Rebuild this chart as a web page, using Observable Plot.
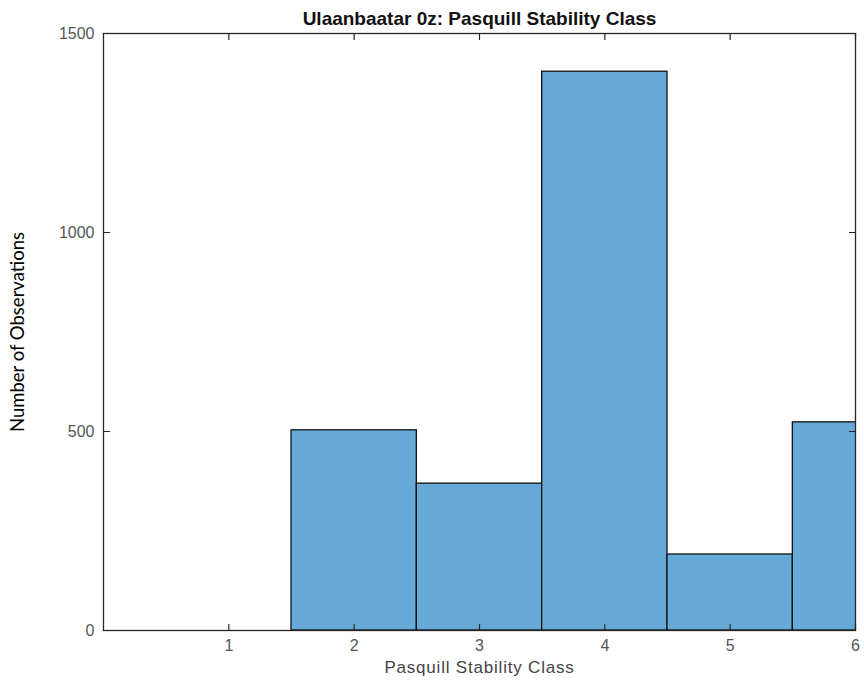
<!DOCTYPE html>
<html>
<head>
<meta charset="utf-8">
<script src="https://cdn.jsdelivr.net/npm/d3@7"></script>
<script src="https://cdn.jsdelivr.net/npm/@observablehq/plot@0.6"></script>
<style>
  html, body { margin: 0; padding: 0; background: #fff; }
</style>
</head>
<body>
<div id="chart"></div>
<script>
const classes = [1, 2, 3, 4, 5, 6];
const counts = [0, 503, 369, 1404, 191, 523];
const xTicks = [1, 2, 3, 4, 5, 6];
const yTicks = [0, 500, 1000, 1500];
const title = "Ulaanbaatar 0z: Pasquill Stability Class";
const xLabel = "Pasquill Stability Class";
const yLabel = "Number of Observations";

const bars = classes.map((c, i) => ({cls: c, count: counts[i]}));
const line = {draw(ctx, l) { ctx.moveTo(0, 0); ctx.lineTo(0, -l); }};
const axisColor = "#262626";
const sans = "'Liberation Sans', Arial, sans-serif";

const chart = Plot.plot({
  width: 864,
  height: 681,
  marginLeft: 103,
  marginRight: 9,
  marginTop: 33,
  marginBottom: 51,
  style: {fontFamily: sans, fontSize: "16px", color: "#555", background: "#fff"},
  x: {domain: [0, 6]},
  y: {domain: [0, 1500]},
  marks: [
    Plot.rectY(bars.filter(d => d.count > 0), {
      x1: d => d.cls - 0.5, x2: d => d.cls + 0.5, y1: 0, y2: "count",
      fill: "#66aad7", stroke: "#111", strokeWidth: 1.3, clip: true
    }),
    Plot.frame({stroke: axisColor, strokeWidth: 1.3}),
    Plot.vector(xTicks, {x: d => d, y: 0, length: 6, rotate: 0, anchor: "start", shape: line, stroke: axisColor, strokeWidth: 1.2}),
    Plot.vector(xTicks, {x: d => d, y: 1500, length: 6, rotate: 180, anchor: "start", shape: line, stroke: axisColor, strokeWidth: 1.2}),
    Plot.vector(yTicks, {x: 0, y: d => d, length: 6, rotate: 90, anchor: "start", shape: line, stroke: axisColor, strokeWidth: 1.2}),
    Plot.vector(yTicks, {x: 6, y: d => d, length: 6, rotate: 270, anchor: "start", shape: line, stroke: axisColor, strokeWidth: 1.2}),
    Plot.axisX(xTicks, {tickSize: 0, tickPadding: 9, label: null, tickFormat: d => String(d), fill: "#555", fontSize: 16}),
    Plot.axisY(yTicks, {tickSize: 0, tickPadding: 9, label: null, tickFormat: d => String(d), fill: "#555", fontSize: 16}),
    Plot.text([title], {frameAnchor: "top", lineAnchor: "middle", dy: -15, text: d => d, fontWeight: "bold", fontSize: 19, fill: "#111", fontFamily: sans}),
    Plot.text([xLabel], {frameAnchor: "bottom", lineAnchor: "middle", dy: 37, text: d => d, fontSize: 17, fill: "#444", fontFamily: sans}),
    Plot.text([yLabel], {frameAnchor: "left", textAnchor: "middle", dx: -85, rotate: -90, text: d => d, fontSize: 18.5, fill: "#000", fontFamily: "Lato, 'Open Sans', sans-serif"})
  ]
});
document.getElementById("chart").appendChild(chart);
d3.select(chart).selectAll("text").filter(function() { return this.textContent === xLabel; })
  .attr("letter-spacing", "0.8px");
</script>
</body>
</html>
